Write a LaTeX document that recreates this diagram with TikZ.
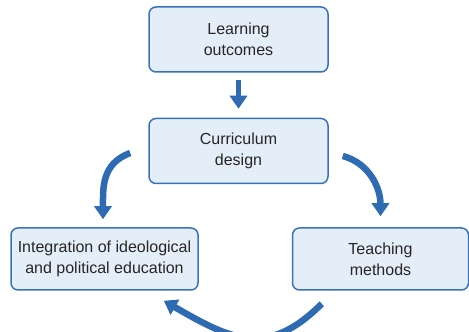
\documentclass[tikz,border=0pt]{standalone}
\usepackage{fontspec}
\setmainfont{Liberation Sans}
\usetikzlibrary{arrows.meta,positioning}
\definecolor{boxblue}{HTML}{E4EEF9}
\definecolor{edgeblue}{HTML}{3A72B8}
\definecolor{arrowblue}{HTML}{2E6BB2}

\begin{document}
\begin{tikzpicture}[x=1pt,y=1pt,
        box/.style={draw=edgeblue,fill=boxblue,line width=1.5pt,rounded corners=7pt,align=center,
            font=\fontsize{16}{21}\selectfont,text=black!85,inner sep=0pt},
        flow/.style={draw=arrowblue,line width=6.5pt,-{Triangle[width=17pt,length=13pt]}}]
        \useasboundingbox (0,0) rectangle (469,332);
        %方框
        \node[box,minimum width=179pt,minimum height=65pt] (lo) at (238.5,292.5) {Learning\\outcomes};
        \node[box,minimum width=179pt,minimum height=65pt,below=45pt of lo] (cd) {Curriculum\\design};
        \node[box,minimum width=187pt,minimum height=62pt] (ipe) at (104.5,73) {Integration of ideological\\and political education};
        \node[box,minimum width=176pt,minimum height=62pt] (tm) at (380.5,73) {Teaching\\methods};
        %箭头
        \draw [flow,line width=5.5pt,shorten <=7pt,shorten >=9pt] (lo) -- (cd);
        \draw [flow] ([xshift=-18pt,yshift=-2pt]cd.west) to[out=200,in=90,looseness=1.1] ([xshift=-1.5pt,yshift=8pt]ipe.north);
        \draw [flow] ([xshift=14pt,yshift=-5pt]cd.east) to[out=-15,in=90] ([yshift=11pt]tm.north);
        \draw [flow] ([xshift=30pt,yshift=-13pt]tm.south west) to[out=-135,in=-30,looseness=1.25] ([xshift=-35pt,yshift=-10pt]ipe.south east);
\end{tikzpicture}
\end{document}
